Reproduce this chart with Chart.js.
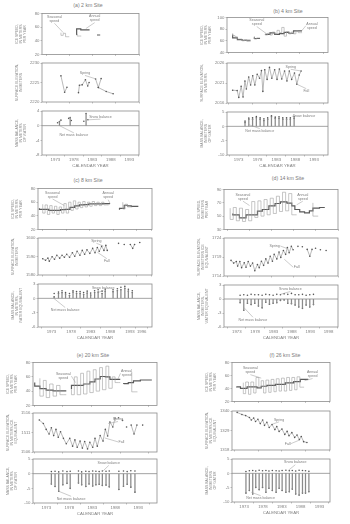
<!DOCTYPE html>
<html>
<head>
<meta charset="utf-8">
<script src="https://cdn.jsdelivr.net/npm/chart.js@4.4.1/dist/chart.umd.min.js"></script>
<style>
    body { margin: 0; width: 350px; height: 524px; background: #fff; position: relative; overflow: hidden; font-family: "Liberation Sans", Arial, sans-serif; }
    canvas { position: absolute; }
    .site { position: absolute; font-size: 5.2px; color: #7a7a7a; transform: translate(-50%, -50%); white-space: nowrap; }
</style>
</head>
<body>
<script>
// tick labels
const yearTicksA = [1973, 1978, 1983, 1988, 1993];
const yearTicksB = [1973, 1978, 1983, 1988, 1993];
const yearTicksC = [1973, 1978, 1983, 1988, 1993, 1996];
const yearTicksD = [1973, 1978, 1983, 1988, 1993, 1998];
const yearTicksE = [1973, 1978, 1983, 1988, 1993];
const yearTicksF = [1973, 1978, 1983, 1988, 1993];

const speedTicksA = [20, 40, 60, 80];
const speedTicksB = [40, 60, 80, 100];
const speedTicksC = [20, 40, 60, 80];
const speedTicksD = [30, 50, 70, 90];
const speedTicksE = [20, 40, 60, 80];
const speedTicksF = [20, 40, 60, 80];

const elevTicksA = [2220, 2225, 2230];
const elevTicksB = [2016, 2021, 2026];
const elevTicksC = [1580, 1590, 1600];
const elevTicksD = [1714, 1719, 1724];
const elevTicksE = [1506, 1511, 1516];
const elevTicksF = [1318, 1329, 1340];

const balanceTicksA = [-8, -4, 0, 4];
const balanceTicksB = [-10, -5, 0, 5];
const balanceTicksC = [-6, -3, 0, 3];
const balanceTicksD = [-6, -3, 0, 3];
const balanceTicksE = [-10, -5, 0, 5];
const balanceTicksF = [-10, -5, 0, 5];

// (a) 2 km site  [year, value]
const seasonalSpeedA = [[1976.1, 52], [1976.6, 48], [1977.1, 51], [1977.6, 46], [1977.9, 46], [1978.0, null], [1979.6, 50], [1980.1, 47], [1980.5, 47]];
const annualSpeedA = [[1979.5, 48.5], [1980.4, 57.5], [1981.5, 56], [1982.3, 56], [1982.4, null], [1983.9, 48.5], [1984.6, 48.5]];
const elevationA = [[1976.1, 2226.7], [1976.9, 2222.5], [1977.4, 2223.8], [1977.5, null], [1979.9, 2222.4], [1980.1, 2224.3], [1980.7, 2224.4], [1981.4, 2225.7], [1981.9, 2224.1], [1982.2, 2225.0], [1982.3, null], [1983.6, 2225.9], [1984.2, 2223.7], [1984.8, 2226.0], [1984.85, null], [1984.2, 2223.7], [1985.9, 2222.7], [1987.4, 2222.1]];
const balanceYearsA = [1974.1, 1977.0, 1981.3];
const netBalanceA = [1.1, 2.2, 3.3];
const snowYearsA = [1973.6, 1974.5, 1976.6, 1977.3, 1980.7, 1981.8];
const snowBalanceA = [0.8, 1.5, 2.0, 1.4, 1.2, 1.6];

// (b) 4 km site
const seasonalSpeedB = [[1973.8, 73], [1974.3, 69], [1974.8, 67], [1975.3, 63], [1975.8, 63], [1976.3, 60], [1976.8, 62], [1977.3, 59], [1977.6, 59], [1977.7, null], [1978.4, 68], [1978.9, 63], [1979.3, 65], [1979.6, 65], [1979.7, null], [1980.7, 72], [1981.2, 70], [1981.7, 73], [1982.2, 70], [1982.7, 75], [1983.2, 72], [1983.7, 78], [1984.2, 74], [1984.7, 83], [1985.2, 68], [1985.7, 76], [1986.2, 72], [1986.7, 75], [1987.2, 72], [1987.7, 77], [1988.2, 74], [1988.5, 74]];
const annualSpeedB = [[1973.8, 71], [1974.8, 65], [1975.8, 62], [1976.8, 61], [1977.6, 61], [1977.7, null], [1978.4, 66], [1979.0, 64], [1979.6, 64], [1979.7, null], [1980.7, 71], [1981.7, 71], [1982.7, 73.5], [1983.7, 71], [1984.7, 72.5], [1985.7, 74.5], [1986.7, 73], [1987.7, 77], [1988.5, 77]];
const elevationB = [[1973.8, 2019.2], [1974.75, 2019.1], [1975.1, 2017.4], [1975.6, 2020.2], [1976.0, 2017.5], [1976.4, 2021.5], [1976.7, 2019.5], [1977.2, 2022.5], [1977.6, 2020.5], [1978.05, 2022.8], [1978.5, 2020.5], [1979.0, 2023.2], [1979.5, 2022.2], [1979.9, 2024.1], [1980.2, 2018.9], [1980.6, 2024.3], [1981.1, 2021.9], [1981.6, 2024.9], [1982.1, 2022.2], [1982.7, 2024.3], [1983.2, 2021.9], [1983.7, 2024.5], [1984.2, 2022.0], [1984.8, 2024.0], [1985.3, 2021.5], [1985.8, 2024.0], [1986.3, 2021.9], [1986.9, 2023.5], [1987.4, 2020.7], [1987.9, 2023.0], [1988.3, 2024.0]];
const balanceYearsB = [1974.7, 1975.7, 1976.7, 1977.7, 1978.7, 1979.7, 1980.7, 1981.7, 1982.7, 1983.7, 1984.7, 1985.7, 1986.7, 1987.7];
const netBalanceB = [1.3, 2.5, 2.5, 3.0, 2.5, 2.0, 2.5, 3.3, 2.8, 2.8, 2.5, 2.5, 2.5, 2.8];
const snowBalanceB = [1.8, 2.9, 3.0, 3.4, 3.0, 2.6, 3.0, 3.7, 3.2, 3.3, 3.0, 3.0, 3.0, 3.3];

// (c) 8 km site
const seasonalSpeedC = [[1973.0, 57], [1973.5, 44], [1974.0, 56], [1974.5, 42], [1975.0, 55], [1975.5, 44], [1976.0, 54], [1976.5, 42], [1977.0, 53], [1977.5, 44], [1978.0, 58], [1978.5, 44], [1979.0, 60], [1979.5, 48], [1980.0, 62], [1980.5, 50], [1981.0, 60], [1981.5, 52], [1982.0, 61], [1982.5, 53], [1983.0, 60], [1983.5, 54], [1984.0, 61], [1984.5, 55], [1985.0, 60], [1985.5, 55], [1986.0, 60], [1986.5, 56], [1987.0, 56], [1987.1, null], [1990.0, 60], [1990.5, 50], [1991.0, 57], [1991.5, 53], [1992.0, 53]];
const annualSpeedC = [[1972.3, 51], [1974.3, 49.5], [1975.3, 48], [1976.8, 48], [1977.8, 49], [1978.8, 49.5], [1979.8, 52.5], [1980.8, 54.5], [1981.8, 56], [1982.8, 56.5], [1983.8, 57.5], [1984.8, 57.5], [1985.8, 57.5], [1986.8, 58], [1987.3, 58], [1987.4, null], [1989.3, 49], [1990.3, 51], [1991.0, 55.5], [1991.8, 54.5], [1992.8, 54], [1993.3, 54]];
const elevationC = [[1973.0, 1588.8], [1973.6, 1588.0], [1974.1, 1589.1], [1974.4, 1587.5], [1975.0, 1589.9], [1975.5, 1588.5], [1976.0, 1590.7], [1976.6, 1589.1], [1977.1, 1590.7], [1977.6, 1589.6], [1978.1, 1591.2], [1978.7, 1589.6], [1979.3, 1592.0], [1979.8, 1590.1], [1980.3, 1592.8], [1980.9, 1590.7], [1981.4, 1593.3], [1981.9, 1591.2], [1982.4, 1593.6], [1983.0, 1591.7], [1983.6, 1594.4], [1984.1, 1592.0], [1984.6, 1594.9], [1985.0, 1592.8], [1985.5, 1595.5], [1986.0, 1593.3], [1986.4, 1596.0], [1986.7, 1593.3], [1986.8, null], [1989.1, 1597.1], [1989.2, null], [1990.3, 1596.5], [1990.4, null], [1991.6, 1596.5], [1992.1, 1594.4], [1992.5, 1596.5], [1992.6, null], [1993.6, 1597.6]];
const balanceYearsC = [1973.7, 1974.8, 1975.7, 1976.6, 1977.6, 1978.5, 1979.4, 1980.3, 1981.2, 1982.1, 1983.0, 1984.0, 1984.9, 1985.9, 1986.7, 1988.7, 1989.8, 1990.7, 1991.7, 1992.6, 1993.6];
const netBalanceC = [0.3, 1.0, 1.2, 0.9, 0.6, 1.3, 1.0, 1.0, 0.8, 1.1, 0.7, 1.2, 1.3, 1.0, 1.5, 1.4, 1.6, 1.8, 2.1, 1.5, 1.2];
const snowBalanceC = [1.0, 1.3, 1.6, 1.2, 1.0, 1.6, 1.4, 1.4, 1.2, 1.5, 1.1, 1.6, 1.8, 1.5, 1.9, 1.8, 2.0, 2.3, 2.5, 1.9, 1.6];

// (d) 14 km site
const seasonalSpeedD = [[1973.5, 62], [1974.2, 45], [1974.9, 63], [1975.6, 43], [1976.3, 62], [1977.0, 42], [1977.7, 60], [1978.4, 43], [1979.1, 72], [1979.8, 48], [1980.5, 73], [1981.2, 50], [1981.9, 75], [1982.6, 52], [1983.3, 77], [1984.0, 54], [1984.7, 80], [1985.4, 57], [1986.1, 86], [1986.8, 58], [1987.5, 84], [1988.2, 52], [1988.6, 52], [1988.7, null], [1992.3, 70], [1993.0, 50], [1993.5, 50]];
const annualSpeedD = [[1974.1, 54], [1975.6, 51.8], [1977.1, 47.5], [1978.6, 52], [1979.7, 52], [1980.8, 57.7], [1982.3, 60], [1983.7, 65.5], [1984.9, 69], [1986.4, 71.5], [1987.5, 69.5], [1988.2, 65.5], [1989.3, 60], [1990.4, 56.5], [1991.5, 54.8], [1992.3, 58], [1993.8, 62], [1994.5, 63], [1995.0, 63]];
const elevationD = [[1973.7, 1718.1], [1974.3, 1717.4], [1974.9, 1717.8], [1975.2, 1716.6], [1975.7, 1717.8], [1976.1, 1716.2], [1976.7, 1717.5], [1977.1, 1716.3], [1977.6, 1717.8], [1978.1, 1716.6], [1978.6, 1717.4], [1979.1, 1715.4], [1979.7, 1717.0], [1980.1, 1716.2], [1980.6, 1717.9], [1981.1, 1716.8], [1981.6, 1718.5], [1982.1, 1717.4], [1982.6, 1719.2], [1983.1, 1717.9], [1983.5, 1719.7], [1984.1, 1718.5], [1984.6, 1720.3], [1985.0, 1718.9], [1985.6, 1720.7], [1986.1, 1719.7], [1986.5, 1721.5], [1986.9, 1720.1], [1987.4, 1721.8], [1987.8, 1720.9], [1987.9, null], [1988.9, 1721.8], [1989.0, null], [1989.9, 1721.7], [1990.0, null], [1991.0, 1721.0], [1991.6, 1719.2], [1992.1, 1721.0], [1992.2, null], [1992.9, 1721.3], [1993.0, null], [1994.0, 1720.9], [1994.1, null], [1995.3, 1720.7]];
const balanceYearsD = [1973.9, 1974.9, 1975.9, 1976.9, 1977.9, 1978.9, 1979.9, 1980.9, 1981.9, 1982.9, 1983.9, 1984.9, 1985.9, 1986.9, 1987.9, 1988.9, 1989.9, 1990.9, 1991.9, 1992.9, 1993.9];
const netBalanceD = [-0.8, -2.4, -0.9, -1.2, -0.9, -1.5, -1.9, -0.7, -1.1, -0.9, -0.8, -0.3, -0.2, -0.9, -1.0, -1.3, -1.7, -2.0, -1.3, -1.7, -1.2];
const snowBalanceD = [0.8, 0.9, 0.8, 1.0, 0.9, 0.9, 0.8, 1.0, 0.9, 0.8, 1.0, 0.9, 1.1, 1.0, 1.2, 0.9, 0.9, 1.0, 0.8, 0.9, 1.0];

// (e) 20 km site
const seasonalSpeedE = [[1974.0, 58], [1974.6, 33], [1975.1, 55], [1975.7, 31], [1976.3, 50], [1976.9, 33], [1977.5, 48], [1978.1, 35], [1978.6, 35], [1978.7, null], [1979.5, 42], [1980.0, 35], [1980.5, 60], [1981.1, 35], [1981.6, 65], [1982.2, 36], [1982.7, 68], [1983.3, 38], [1983.8, 70], [1984.4, 40], [1984.9, 73], [1985.5, 42], [1986.0, 75], [1986.6, 44], [1987.1, 60], [1987.7, 52], [1988.0, 52], [1988.1, null], [1990.0, 67], [1990.6, 39], [1991.0, 39]];
const annualSpeedE = [[1973.1, 52], [1974.0, 47], [1975.1, 43.5], [1976.3, 41.5], [1978.1, 40.5], [1978.6, 40.5], [1978.7, null], [1979.5, 42.5], [1981.6, 48], [1982.7, 50], [1983.6, 53], [1984.5, 57], [1985.4, 60.5], [1986.2, 60], [1987.1, 56.5], [1988.0, 56.5], [1988.1, null], [1988.6, 50], [1989.4, 50.5], [1990.3, 52], [1991.5, 54.3], [1992.6, 55.6], [1993.5, 55.6]];
const elevationE = [[1973.9, 1514.2], [1974.6, 1513.3], [1975.1, 1511.8], [1975.6, 1510.6], [1976.0, 1512.2], [1976.4, 1510.2], [1976.8, 1511.8], [1977.2, 1509.8], [1977.6, 1511.2], [1978.1, 1509.5], [1978.6, 1508.1], [1979.2, 1509.5], [1979.7, 1507.5], [1980.1, 1509.1], [1980.5, 1507.2], [1981.0, 1508.8], [1981.4, 1507.0], [1981.8, 1508.7], [1982.3, 1506.8], [1982.7, 1508.5], [1983.2, 1507.2], [1983.6, 1509.5], [1984.0, 1507.5], [1984.5, 1510.2], [1985.0, 1508.8], [1985.4, 1511.8], [1985.8, 1510.1], [1986.2, 1513.7], [1986.7, 1512.4], [1987.1, 1514.7], [1987.2, null], [1987.7, 1514.8], [1987.8, null], [1988.4, 1514.1], [1988.5, null], [1989.1, 1512.4], [1989.2, null], [1989.9, 1512.9], [1990.4, 1510.6], [1990.9, 1512.9], [1991.0, null], [1991.9, 1512.9]];
const balanceYearsE = [1974.1, 1974.9, 1975.7, 1976.6, 1977.5, 1978.2, 1980.0, 1980.7, 1981.6, 1982.3, 1983.1, 1983.8, 1984.5, 1985.2, 1986.0, 1986.7, 1988.8, 1989.8, 1990.6, 1991.4, 1992.3];
const netBalanceE = [-3.5, -4.4, -6.0, -3.8, -3.3, -5.0, -3.2, -3.8, -4.4, -3.5, -4.2, -3.8, -3.6, -4.0, -3.9, -4.5, -5.4, -4.3, -3.6, -4.6, -6.3];
const snowBalanceE = [0.7, 0.8, 0.6, 0.9, 0.7, 0.8, 0.9, 0.6, 0.8, 0.7, 0.9, 0.8, 0.7, 0.9, 0.8, 0.9, 0.8, 0.9, 0.7, 1.0, 0.9];

// (f) 26 km site
const seasonalSpeedF = [[1974.8, 49], [1975.3, 32], [1975.9, 50], [1976.4, 31], [1977.0, 50], [1977.5, 33], [1978.1, 57], [1978.6, 42], [1979.1, 52], [1979.6, 33], [1980.2, 53], [1980.7, 34], [1981.3, 54], [1981.8, 35], [1982.4, 55], [1982.9, 36], [1983.5, 56], [1984.0, 36], [1984.6, 57], [1985.1, 37], [1985.7, 57], [1986.2, 38], [1986.8, 58], [1987.3, 42], [1987.7, 42]];
const annualSpeedF = [[1973.4, 43], [1974.2, 42.5], [1975.6, 40.2], [1977.7, 42.5], [1978.6, 41], [1979.8, 43.4], [1981.6, 44.8], [1983.7, 46.2], [1985.5, 48.6], [1986.9, 50.5], [1988.0, 54.2], [1988.6, 54.2]];
const elevationF = [[1973.5, 1339.2], [1974.5, 1338.0], [1975.3, 1337.4], [1976.1, 1336.3], [1976.5, 1334.9], [1977.0, 1336.0], [1977.4, 1334.1], [1977.9, 1335.3], [1978.4, 1332.9], [1978.9, 1334.9], [1979.3, 1331.9], [1979.8, 1333.6], [1980.3, 1330.7], [1980.9, 1332.4], [1981.5, 1329.5], [1981.9, 1331.2], [1982.4, 1328.5], [1983.0, 1329.8], [1983.6, 1326.8], [1984.1, 1328.5], [1984.5, 1326.1], [1985.1, 1327.8], [1985.7, 1325.1], [1986.2, 1326.4], [1986.7, 1323.9], [1987.1, 1325.6], [1987.6, 1322.7], [1988.3, 1322.2]];
const balanceYearsF = [1973.5, 1974.4, 1975.3, 1976.1, 1977.0, 1977.9, 1978.8, 1979.6, 1980.5, 1981.5, 1982.3, 1983.1, 1984.1, 1985.0, 1985.8, 1986.7, 1987.6, 1988.5, 1989.3, 1990.2];
const netBalanceF = [-6.9, -6.0, -7.2, -4.9, -5.7, -4.9, -6.6, -5.2, -6.0, -6.6, -5.2, -6.0, -6.6, -6.4, -5.5, -7.2, -7.6, -6.9, -6.9, -6.4];
const snowBalanceF = [0.6, 0.9, 1.0, 0.8, 1.1, 0.9, 1.0, 0.8, 1.0, 0.9, 0.8, 1.0, 1.1, 0.9, 1.0, 0.8, 1.1, 1.0, 0.9, 0.7];

// axis titles
const speedTitle = ['ICE SPEED,', 'IN METERS', 'PER YEAR'];
const elevTitle = ['SURFACE ELEVATION,', 'IN METERS'];
const elevIceTitle = ['SURFACE ELEVATION,', 'IN METERS ICE', 'EQUIVALENT'];
const balanceTitle = ['MASS BALANCE,', 'IN METERS', 'OF WATER'];
const balanceWeTitle = ['MASS BALANCE,', 'IN METERS,', 'WATER EQUIVALENT'];

const INK = '#808080';
const LEFT_W = 27;
const PAD_T = 3;
const PAD_R = 8;

// panel layout (page pixels of each plot frame)
const panels = [
    {
        title: '(a) 2 km Site', titleAt: [88, 5], x: [42, 139], rows: [[13, 57], [62, 105], [110, 155]],
        years: [1972, 1993], yearTicks: yearTicksA,
        speed: { seasonal: seasonalSpeedA, annual: annualSpeedA, ticks: speedTicksA, title: speedTitle,
            notes: [{ text: 'Seasonal\nspeed', at: [1974.7, 72], to: [1976.6, 52] }, { text: 'Annual\nspeed', at: [1983.4, 73], to: [1981.5, 58] }] },
        elev: { data: elevationA, ticks: elevTicksA, title: elevTitle,
            notes: [{ text: 'Spring', at: [1981.3, 2227.4], to: [1983.7, 2225.9] }] },
        balance: { years: balanceYearsA, net: netBalanceA, snowYears: snowYearsA, snow: snowBalanceA, ticks: balanceTicksA, title: balanceTitle,
            notes: [{ text: 'Snow balance', at: [1985.2, 2.4], to: [1981.8, 1.6] }, { text: 'Net mass balance', at: [1978.0, -2.6], to: [1974.1, 0] }] }
    },
    {
        title: '(b) 4 km Site', titleAt: [288, 11], x: [227, 328], rows: [[17, 55], [62, 106], [111, 155]],
        years: [1972.6, 1994], yearTicks: yearTicksB,
        speed: { seasonal: seasonalSpeedB, annual: annualSpeedB, ticks: speedTicksB, title: speedTitle,
            notes: [{ text: 'Seasonal\nspeed', at: [1978.9, 92], to: [1981.0, 72] }, { text: 'Annual\nspeed', at: [1990.6, 86], to: [1988.4, 77] }] },
        elev: { data: elevationB, ticks: elevTicksB, title: elevTitle,
            notes: [{ text: 'Spring', at: [1986.1, 2025.0], to: [1988.3, 2024.0] }, { text: 'Fall', at: [1989.4, 2019.0], to: [1987.4, 2020.7] }] },
        balance: { years: balanceYearsB, net: netBalanceB, snowYears: balanceYearsB, snow: snowBalanceB, ticks: balanceTicksB, title: balanceTitle,
            notes: [{ text: 'Snow balance', at: [1990.3, 3.6], to: [1987.8, 3.1] }, { text: 'Net mass balance', at: [1978.6, -1.6], to: [1975.7, 0.6] }] }
    },
    {
        title: '(c) 8 km Site', titleAt: [88, 180], x: [38, 152], rows: [[188, 232], [237, 278], [283, 327]],
        years: [1972, 1996.2], yearTicks: yearTicksC,
        speed: { seasonal: seasonalSpeedC, annual: annualSpeedC, ticks: speedTicksC, title: speedTitle,
            notes: [{ text: 'Seasonal\nspeed', at: [1975.1, 71], to: [1977.6, 55] }, { text: 'Annual\nspeed', at: [1986.9, 70], to: [1987.3, 58] }] },
        elev: { data: elevationC, ticks: elevTicksC, title: elevTitle,
            notes: [{ text: 'Spring', at: [1984.4, 1598.4], to: [1985.9, 1595.6] }, { text: 'Fall', at: [1986.6, 1587.6], to: [1984.6, 1592.3] }] },
        balance: { years: balanceYearsC, net: netBalanceC, snowYears: balanceYearsC, snow: snowBalanceC, ticks: balanceTicksC, title: balanceWeTitle,
            notes: [{ text: 'Snow balance', at: [1986.2, 2.1], to: [1985.1, 1.3] }, { text: 'Net mass balance', at: [1976.5, -2.4], to: [1973.6, 0] }] }
    },
    {
        title: '(d) 14 km Site', titleAt: [288, 178], x: [224, 338], rows: [[189, 232], [237, 279], [284, 327]],
        years: [1972.1, 1998], yearTicks: yearTicksD,
        speed: { seasonal: seasonalSpeedD, annual: annualSpeedD, ticks: speedTicksD, title: speedTitle,
            notes: [{ text: 'Seasonal\nspeed', at: [1976.4, 79], to: [1977.9, 66] }, { text: 'Annual\nspeed', at: [1990.0, 79], to: [1988.6, 67] }] },
        elev: { data: elevationD, ticks: elevTicksD, title: elevIceTitle,
            notes: [{ text: 'Spring', at: [1983.6, 1721.9], to: [1986.5, 1721.2] }, { text: 'Fall', at: [1988.6, 1716.3], to: [1985.8, 1718.4] }] },
        balance: { years: balanceYearsD, net: netBalanceD, snowYears: balanceYearsD, snow: snowBalanceD, ticks: balanceTicksD, title: balanceWeTitle,
            notes: [{ text: 'Snow balance', at: [1987.6, 2.1], to: [1984.9, 1.0] }, { text: 'Net mass balance', at: [1977.4, -4.4], to: [1974.9, -1.8] }] }
    },
    {
        title: '(e) 20 km Site', titleAt: [93, 355], x: [33, 157], rows: [[362, 408], [412, 455], [458, 503]],
        years: [1972.8, 1994.4], yearTicks: yearTicksE,
        speed: { seasonal: seasonalSpeedE, annual: annualSpeedE, ticks: speedTicksE, title: speedTitle,
            notes: [{ text: 'Seasonal\nspeed', at: [1978.1, 61], to: [1980.2, 52] }, { text: 'Annual\nspeed', at: [1989.1, 65], to: [1987.6, 57] }] },
        elev: { data: elevationE, ticks: elevTicksE, title: elevIceTitle,
            notes: [{ text: 'Spring', at: [1987.6, 1514.4], to: [1985.9, 1513.3] }, { text: 'Fall', at: [1988.2, 1508.6], to: [1985.3, 1509.6] }] },
        balance: { years: balanceYearsE, net: netBalanceE, snowYears: balanceYearsE, snow: snowBalanceE, ticks: balanceTicksE, title: balanceTitle,
            notes: [{ text: 'Snow balance', at: [1986.6, 3.6], to: [1985.4, 1.0] }, { text: 'Net mass balance', at: [1978.4, -8.5], to: [1975.7, -6.0] }] }
    },
    {
        title: '(f) 26 km Site', titleAt: [285, 355], x: [232, 330], rows: [[362, 404], [410, 453], [458, 502]],
        years: [1972.4, 1993.2], yearTicks: yearTicksF,
        speed: { seasonal: seasonalSpeedF, annual: annualSpeedF, ticks: speedTicksF, title: speedTitle,
            notes: [{ text: 'Seasonal\nspeed', at: [1976.3, 68], to: [1978.6, 56] }, { text: 'Annual\nspeed', at: [1989.5, 62], to: [1987.8, 52] }] },
        elev: { data: elevationF, ticks: elevTicksF, title: elevIceTitle,
            notes: [{ text: 'Spring', at: [1982.4, 1335.2], to: [1981.0, 1332.6] }, { text: 'Fall', at: [1984.2, 1321.6], to: [1986.8, 1323.7] }] },
        balance: { years: balanceYearsF, net: netBalanceF, snowYears: balanceYearsF, snow: snowBalanceF, ticks: balanceTicksF, title: balanceTitle,
            notes: [{ text: 'Snow balance', at: [1986.6, 3.8], to: [1984.8, 1.1] }, { text: 'Net mass balance', at: [1977.4, -8.6], to: [1974.9, -6.6] }] }
    }
];

// frame, zero line and leader labels
const framePlugin = {
    id: 'frame',
    afterDatasetsDraw(chart, args, opts) {
        const { ctx, chartArea: a, scales } = chart;
        ctx.save();
        ctx.strokeStyle = '#8c8c8c';
        ctx.lineWidth = 0.8;
        ctx.strokeRect(a.left, a.top, a.right - a.left, a.bottom - a.top);
        if (opts.zero) {
            const y0 = scales.y.getPixelForValue(0);
            ctx.beginPath();
            ctx.moveTo(a.left, y0);
            ctx.lineTo(a.right, y0);
            ctx.stroke();
        }
        ctx.font = '3.6px "Liberation Sans"';
        ctx.fillStyle = INK;
        ctx.strokeStyle = '#999';
        ctx.lineWidth = 0.5;
        ctx.textAlign = 'center';
        ctx.textBaseline = 'middle';
        (opts.notes || []).forEach(n => {
            const tx = scales.x.getPixelForValue(n.at[0]);
            const ty = scales.y.getPixelForValue(n.at[1]);
            const px = scales.x.getPixelForValue(n.to[0]);
            const py = scales.y.getPixelForValue(n.to[1]);
            const lines = n.text.split('\n');
            const lh = 4;
            const w = Math.max(...lines.map(l => ctx.measureText(l).width));
            const h = lines.length * lh;
            lines.forEach((l, i) => ctx.fillText(l, tx, ty - h / 2 + lh / 2 + i * lh));
            let sx = tx, sy = ty;
            const dx = px - tx, dy = py - ty;
            if (Math.abs(dx) / (w / 2) > Math.abs(dy) / (h / 2)) {
                sx = tx + Math.sign(dx) * (w / 2 + 0.5);
            } else {
                sy = ty + Math.sign(dy) * (h / 2 + 0.3);
            }
            ctx.beginPath();
            ctx.moveTo(sx, sy);
            ctx.lineTo(px, py);
            ctx.stroke();
        });
        ctx.restore();
    }
};
Chart.register(framePlugin);

document.addEventListener('DOMContentLoaded', function() {
    panels.forEach(drawPanel);
});

function toPoints(pairs) {
    return pairs.map(p => ({ x: p[0], y: p[1] }));
}

function zipPoints(xs, ys) {
    return xs.map((x, i) => ({ x: x, y: ys[i] }));
}

// one plot frame
function makePlot(p, row, isBottom, yCfg, datasets, notes, zero) {
    const [y0, y1] = p.rows[row];
    const bottomH = isBottom ? 13 : 1;
    const w = p.x[1] - p.x[0] + LEFT_W + PAD_R;
    const h = y1 - y0 + PAD_T + bottomH;
    const canvas = document.createElement('canvas');
    canvas.width = w;
    canvas.height = h;
    canvas.style.left = (p.x[0] - LEFT_W) + 'px';
    canvas.style.top = (y0 - PAD_T) + 'px';
    document.body.appendChild(canvas);

    const ticks = yCfg.ticks;
    new Chart(canvas, {
        type: 'line',
        data: { datasets: datasets },
        options: {
            responsive: false,
            animation: false,
            devicePixelRatio: 1,
            layout: { padding: { top: PAD_T, right: PAD_R, left: 0, bottom: 0 } },
            plugins: {
                legend: { display: false },
                tooltip: { enabled: false },
                frame: { notes: notes, zero: zero }
            },
            scales: {
                x: {
                    type: 'linear',
                    min: p.years[0],
                    max: p.years[1],
                    afterBuildTicks: s => { s.ticks = p.yearTicks.map(v => ({ value: v })); },
                    afterFit: s => { s.height = bottomH; },
                    ticks: { display: isBottom, color: INK, font: { size: 4.3 }, padding: 1, maxRotation: 0, autoSkip: false, callback: v => String(v) },
                    grid: { drawOnChartArea: false, tickLength: 1.5, color: '#999', lineWidth: 0.6 },
                    border: { display: false },
                    title: { display: isBottom, text: 'CALENDAR YEAR', color: INK, font: { size: 4.3 }, padding: { top: 1, bottom: 0 } }
                },
                y: {
                    type: 'linear',
                    min: ticks[0],
                    max: ticks[ticks.length - 1],
                    afterBuildTicks: s => { s.ticks = ticks.map(v => ({ value: v })); },
                    afterFit: s => { s.width = LEFT_W; },
                    ticks: { color: INK, font: { size: 4.3 }, padding: 1, callback: v => String(v) },
                    grid: { drawOnChartArea: false, tickLength: 1.5, color: '#999', lineWidth: 0.6 },
                    border: { display: false },
                    title: { display: true, text: yCfg.title, color: INK, font: { size: 3.5, lineHeight: 1.15 }, padding: 0 }
                }
            }
        }
    });
}

function drawPanel(p) {
    // site title
    const label = document.createElement('div');
    label.className = 'site';
    label.textContent = p.title;
    label.style.left = p.titleAt[0] + 'px';
    label.style.top = p.titleAt[1] + 'px';
    document.body.appendChild(label);

    // ice speed
    makePlot(p, 0, false, p.speed, [
        { data: toPoints(p.speed.seasonal), stepped: 'after', borderColor: '#a0a0a0', borderWidth: 0.6, pointRadius: 0 },
        { data: toPoints(p.speed.annual), stepped: 'after', borderColor: '#5a5a5a', borderWidth: 1.2, pointRadius: 0 }
    ], p.speed.notes, false);

    // surface elevation
    makePlot(p, 1, false, p.elev, [
        { data: toPoints(p.elev.data), borderColor: '#8a8a8a', borderWidth: 0.6, pointRadius: 0.8, pointBorderWidth: 0, pointBackgroundColor: '#555' }
    ], p.elev.notes, false);

    // mass balance
    makePlot(p, 2, true, p.balance, [
        { type: 'bar', data: zipPoints(p.balance.years, p.balance.net), backgroundColor: '#8a8a8a', barThickness: 0.6 },
        { data: zipPoints(p.balance.years, p.balance.net), showLine: false, pointRadius: 0.8, pointBorderWidth: 0, pointBackgroundColor: '#555' },
        { data: zipPoints(p.balance.snowYears, p.balance.snow), showLine: false, pointRadius: 0.8, pointBorderWidth: 0, pointBackgroundColor: '#555' }
    ], p.balance.notes, true);
}
</script>
</body>
</html>
